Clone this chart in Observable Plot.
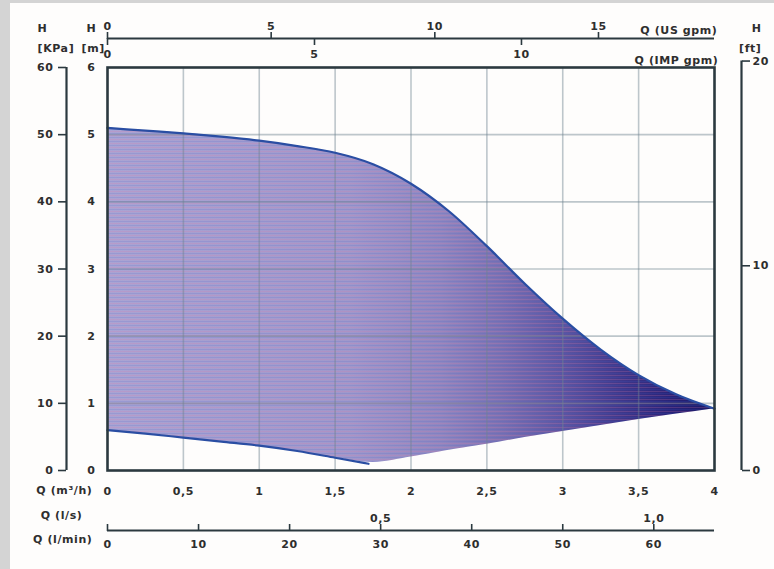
<!DOCTYPE html>
<html><head><meta charset="utf-8">
<script src="https://cdn.jsdelivr.net/npm/d3@7"></script>
<script src="https://cdn.jsdelivr.net/npm/@observablehq/plot@0.6"></script>
<style>
html,body{margin:0;padding:0;background:#d4d4d4;width:774px;height:569px;overflow:hidden}
#chart{position:absolute;left:10px;top:3px;width:764px;height:566px;background:#fefdfc}
#chart svg text{letter-spacing:0.6px}
</style></head><body><div id="chart"></div>
<script>
// Pump curve: Q in m³/h, H in m
const qCurve = [0, 0.25, 0.5, 0.75, 1.0, 1.25, 1.5, 1.75, 2.0, 2.25, 2.5, 2.75, 3.0, 3.25, 3.5, 3.75, 4.0];
const hMax   = [5.10, 5.06, 5.02, 4.97, 4.91, 4.83, 4.73, 4.56, 4.27, 3.86, 3.34, 2.78, 2.26, 1.80, 1.42, 1.13, 0.92];
const hLow   = [0.60, 0.55, 0.49, 0.43, 0.37, 0.29, 0.19, 0.12, 0.20, 0.30, 0.39, 0.49, 0.58, 0.67, 0.76, 0.84, 0.92];
const qMin = [0, 0.25, 0.5, 0.75, 1.0, 1.25, 1.5, 1.72];
const hMin = [0.60, 0.55, 0.49, 0.43, 0.37, 0.29, 0.19, 0.10];

// Axis ticks
const qTicks = [0, 0.5, 1, 1.5, 2, 2.5, 3, 3.5, 4];
const qTickLabels = ["0", "0,5", "1", "1,5", "2", "2,5", "3", "3,5", "4"];
const qGrid = [0.5, 1, 1.5, 2, 2.5, 3, 3.5];
const hTicks = [0, 1, 2, 3, 4, 5, 6];
const hGrid = [1, 2, 3, 4, 5];
const kpaTicks = [0, 10, 20, 30, 40, 50, 60];
const ftTicks = [0, 10, 20];
const usGpmTicks = [0, 5, 10, 15];
const impGpmTicks = [0, 5, 10];
const lsTicks = [0.5, 1.0];
const lsLabels = ["0,5", "1,0"];
const lminTicks = [0, 10, 20, 30, 40, 50, 60];

// unit conversions to the chart's base units (m, m³/h)
const KPA = 0.1, FT = 0.3048, US = 0.2157, IMP = 0.2728, LMIN = 0.06, LS = 3.6;

const ink = "#2b393f";
const labeler = (vals, conv, labels) => {
  const m = new Map(vals.map((v, i) => [v * conv, labels ? labels[i] : String(v)]));
  return d => m.has(d) ? m.get(d) : "";
};
const conv = (vals, c) => vals.map(v => v * c);

const fillRows = qCurve.map((q, i) => ({q, lo: hLow[i], hi: hMax[i]}));
const maxRows = qCurve.map((q, i) => ({q, h: hMax[i]}));
const minRows = qMin.map((q, i) => ({q, h: hMin[i]}));

const txt = {fill: "#2e2e2e", fontWeight: "bold"};

const svg = Plot.plot({
  width: 764, height: 566,
  marginLeft: 97, marginRight: 60, marginTop: 64, marginBottom: 99,
  x: {domain: [0, 4], axis: null},
  y: {domain: [0, 6], axis: null},
  style: {fontFamily: "'DejaVu Sans', sans-serif", fontWeight: "bold", fontSize: "11px", color: "#2e2e2e", background: "transparent", overflow: "visible"},
  marks: [
    Plot.areaY(fillRows, {x: "q", y1: "lo", y2: "hi", curve: "monotone-x", fill: "url(#pumpGrad)"}),
    Plot.areaY(fillRows, {x: "q", y1: "lo", y2: "hi", curve: "monotone-x", fill: "url(#stripes)"}),
    Plot.gridX(qGrid, {stroke: "#6f8390", strokeOpacity: 0.45, strokeWidth: 1.6}),
    Plot.gridY(hGrid, {stroke: "#6f8390", strokeOpacity: 0.45, strokeWidth: 1.6}),
    Plot.line(maxRows, {x: "q", y: "h", curve: "monotone-x", stroke: "#2a4ea3", strokeWidth: 2.2}),
    Plot.line(minRows, {x: "q", y: "h", curve: "monotone-x", stroke: "#2a4ea3", strokeWidth: 2.2}),
    Plot.frame({stroke: ink, strokeWidth: 2.6}),

    // inner H [m] labels
    Plot.axisY(hTicks, {anchor: "left", tickSize: 0, tickPadding: 12, tickFormat: labeler(hTicks, 1), label: null}),
    // H [KPa] axis
    Plot.ruleX([0], {dx: -41, y1: kpaTicks[0] * KPA, y2: kpaTicks[kpaTicks.length - 1] * KPA, stroke: ink, strokeWidth: 2.2}),
    Plot.axisY(conv(kpaTicks, KPA), {anchor: "left", dx: -41, tickSize: 8, tickPadding: 5, stroke: ink, strokeWidth: 1.6, tickFormat: labeler(kpaTicks, KPA), label: null}),
    // H [ft] axis
    Plot.ruleX([4], {dx: 27, y1: ftTicks[0] * FT, y2: ftTicks[ftTicks.length - 1] * FT, stroke: ink, strokeWidth: 2.2}),
    Plot.axisY(conv(ftTicks, FT), {anchor: "right", dx: 27, tickSize: 8, tickPadding: 3, stroke: ink, strokeWidth: 1.6, tickFormat: labeler(ftTicks, FT), label: null}),

    // top: US gpm / IMP gpm
    Plot.ruleY([6], {dy: -29, stroke: ink, strokeWidth: 2.2}),
    Plot.axisX(conv(usGpmTicks, US), {anchor: "top", dy: -29, tickSize: 7, tickPadding: 2, stroke: ink, strokeWidth: 1.6, tickFormat: labeler(usGpmTicks, US), label: null}),
    Plot.axisX(conv(impGpmTicks, IMP), {anchor: "bottom", frameAnchor: "top", dy: -29, tickSize: 7, tickPadding: 5, stroke: ink, strokeWidth: 1.6, tickFormat: labeler(impGpmTicks, IMP), label: null}),

    // bottom: m³/h
    Plot.axisX(qTicks, {anchor: "bottom", tickSize: 0, tickPadding: 17, tickFormat: labeler(qTicks, 1, qTickLabels), label: null}),
    // l/min line and ticks
    Plot.ruleY([0], {dy: 60, stroke: ink, strokeWidth: 2.2}),
    Plot.axisX(conv(lminTicks, LMIN), {anchor: "top", frameAnchor: "bottom", dy: 60, tickSize: 7, stroke: ink, strokeWidth: 1.6, tickFormat: () => "", label: null}),
    Plot.axisX(conv(lminTicks, LMIN), {anchor: "bottom", dy: 60, tickSize: 0, tickPadding: 10, tickFormat: labeler(lminTicks, LMIN), label: null}),
    // l/s labels
    Plot.axisX(conv(lsTicks, LS), {anchor: "top", frameAnchor: "bottom", dy: 60, tickSize: 0, tickPadding: 9, tickFormat: labeler(lsTicks, LS, lsLabels), label: null}),

    // unit headers
    Plot.text(["H"], {frameAnchor: "top-left", dx: -70, dy: -43, ...txt}),
    Plot.text(["[KPa]"], {frameAnchor: "top-left", dx: -70, dy: -23, ...txt}),
    Plot.text(["H"], {frameAnchor: "top-left", dx: -21, dy: -43, ...txt}),
    Plot.text(["[m]"], {frameAnchor: "top-left", dx: -26, dy: -23, ...txt}),
    Plot.text(["H"], {frameAnchor: "top-right", dx: 47, dy: -43, ...txt}),
    Plot.text(["[ft]"], {frameAnchor: "top-right", dx: 47, dy: -23, ...txt}),
    Plot.text(["Q (US gpm)"], {frameAnchor: "top-right", textAnchor: "end", dx: 3, dy: -41, ...txt}),
    Plot.text(["Q (IMP gpm)"], {frameAnchor: "top-right", textAnchor: "end", dx: 4, dy: -11, ...txt}),
    Plot.text(["Q (m³/h)"], {frameAnchor: "bottom-left", textAnchor: "end", dx: -15, dy: 23, ...txt}),
    Plot.text(["Q (l/s)"], {frameAnchor: "bottom-left", textAnchor: "end", dx: -25, dy: 48, ...txt}),
    Plot.text(["Q (l/min)"], {frameAnchor: "bottom-left", textAnchor: "end", dx: -15, dy: 72, ...txt})
  ]
});

// gradient + fine hatching for the operating-range fill
const NS = "http://www.w3.org/2000/svg";
const defs = document.createElementNS(NS, "defs");
const grad = document.createElementNS(NS, "linearGradient");
grad.setAttribute("id", "pumpGrad");
grad.setAttribute("x1", "0"); grad.setAttribute("x2", "1");
grad.setAttribute("y1", "0"); grad.setAttribute("y2", "0");
[[0, "#aaa4d3"], [0.4, "#a098cb"], [0.55, "#8f87c0"], [0.65, "#7a71b2"], [0.75, "#5d55a1"], [0.85, "#3e378a"], [0.93, "#282378"], [1, "#1b1866"]]
  .forEach(([o, c]) => {
    const s = document.createElementNS(NS, "stop");
    s.setAttribute("offset", o); s.setAttribute("stop-color", c);
    grad.appendChild(s);
  });
defs.appendChild(grad);
const pat = document.createElementNS(NS, "pattern");
pat.setAttribute("id", "stripes");
pat.setAttribute("patternUnits", "userSpaceOnUse");
pat.setAttribute("width", "8"); pat.setAttribute("height", "4");
[[0, "#e07aa8", 0.22], [2, "#3c5bd0", 0.16]].forEach(([y, c, op]) => {
  const r = document.createElementNS(NS, "rect");
  r.setAttribute("x", 0); r.setAttribute("y", y);
  r.setAttribute("width", 8); r.setAttribute("height", 1);
  r.setAttribute("fill", c); r.setAttribute("opacity", op);
  pat.appendChild(r);
});
defs.appendChild(pat);
svg.insertBefore(defs, svg.firstChild);

document.getElementById("chart").appendChild(svg);
</script>
</body></html>
